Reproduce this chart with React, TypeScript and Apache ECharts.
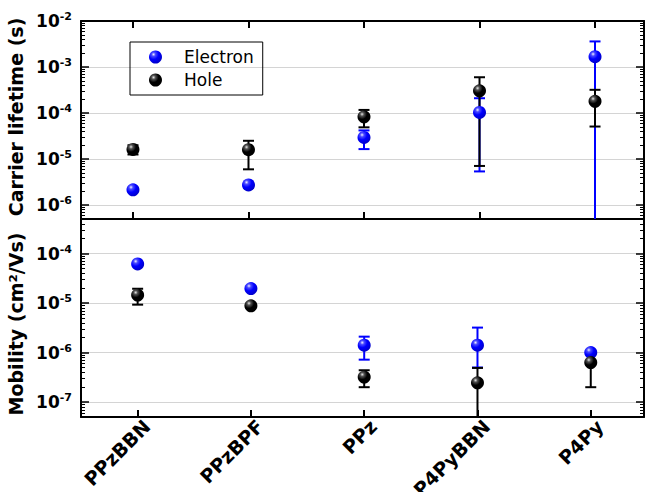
import React, { useEffect, useRef } from "react";
import * as echarts from "echarts";

const categories = ["PPzBBN", "PPzBPF", "PPz", "P4PyBBN", "P4Py"];

const lifetimeElectron = [2.15e-6, 2.75e-6, 2.95e-5, 1.03e-4, 1.68e-3];
const lifetimeElectronLow = [null, null, 1.65e-5, 5.4e-6, 1e-8];
const lifetimeElectronHigh = [null, null, 4.2e-5, 2.1e-4, 3.6e-3];
const lifetimeHole = [1.62e-5, 1.6e-5, 8.3e-5, 3.05e-4, 1.8e-4];
const lifetimeHoleLow = [1.26e-5, 6e-6, 4.9e-5, 7.1e-6, 5.1e-5];
const lifetimeHoleHigh = [2.0e-5, 2.5e-5, 1.17e-4, 6.0e-4, 3.2e-4];

const mobilityElectron = [6.2e-5, 1.97e-5, 1.41e-6, 1.41e-6, 1.0e-6];
const mobilityElectronLow = [null, null, 7.2e-7, 5e-7, null];
const mobilityElectronHigh = [null, null, 2.1e-6, 3.2e-6, null];
const mobilityHole = [1.45e-5, 8.8e-6, 3.2e-7, 2.45e-7, 6.3e-7];
const mobilityHoleLow = [9.3e-6, null, 2.0e-7, 1e-8, 2.0e-7];
const mobilityHoleHigh = [1.95e-5, null, 4.4e-7, 4.9e-7, 1.02e-6];

const lifetimeRange = [5e-7, 1e-2];
const mobilityRange = [5e-8, 5e-4];

const FONT = "DejaVu Sans";
const BLUE = "#0000ff";
const BLACK = "#000000";

const blueBall = {
  type: "radial",
  x: 0.35,
  y: 0.3,
  r: 0.7,
  colorStops: [
    { offset: 0, color: "#f0f0ff" },
    { offset: 0.22, color: "#4a4aff" },
    { offset: 0.55, color: "#0000ff" },
    { offset: 1, color: "#0000cc" },
  ],
};
const blackBall = {
  type: "radial",
  x: 0.35,
  y: 0.3,
  r: 0.7,
  colorStops: [
    { offset: 0, color: "#e6e6e6" },
    { offset: 0.22, color: "#505050" },
    { offset: 0.55, color: "#000000" },
    { offset: 1, color: "#000000" },
  ],
};

function minorTicks(min: number, max: number) {
  const lo = Math.log10(min);
  const hi = Math.log10(max);
  const out: number[] = [];
  for (let n = Math.floor(lo) - 1; n <= Math.ceil(hi); n++) {
    for (let k = 2; k <= 9; k++) {
      const v = n + Math.log10(k);
      if (v > lo + 1e-9 && v < hi - 1e-9) out.push(v);
    }
  }
  return out;
}

const supLabel = (v: number) => {
  const l = Math.log10(v);
  const e = Math.round(l);
  if (Math.abs(l - e) > 1e-6) return "";
  return `{b|10}{s|${e}}`;
};

const labelRich = {
  b: { fontSize: 17, fontWeight: "bold", fontFamily: FONT, color: "#000", lineHeight: 20 },
  s: { fontSize: 11, fontWeight: "bold", fontFamily: FONT, color: "#000", verticalAlign: "top", lineHeight: 12 },
};

function errorData(lo: (number | null)[], hi: (number | null)[]) {
  const out: number[][] = [];
  lo.forEach((l, i) => {
    const h = hi[i];
    if (l != null && h != null) out.push([i + 1, l, h]);
  });
  return out;
}

const makeErrorRender = (color: string) => (params: any, api: any) => {
  const x = api.value(0);
  const lo = api.value(1);
  const hi = api.value(2);
  const pTop = api.coord([x, hi]);
  const pBot = api.coord([x, lo]);
  const cs = params.coordSys;
  const yMin = cs.y;
  const yMax = cs.y + cs.height;
  const px = pTop[0];
  const y1 = Math.max(pTop[1], yMin);
  const y2 = Math.min(pBot[1], yMax);
  const st = { stroke: color, lineWidth: 2 };
  const children: any[] = [
    { type: "line", shape: { x1: px, y1, x2: px, y2 }, style: st },
  ];
  if (pTop[1] >= yMin) children.push({ type: "line", shape: { x1: px - 5.5, y1: pTop[1], x2: px + 5.5, y2: pTop[1] }, style: st });
  if (pBot[1] <= yMax) children.push({ type: "line", shape: { x1: px - 5.5, y1: pBot[1], x2: px + 5.5, y2: pBot[1] }, style: st });
  return { type: "group", children };
};

const pts = (arr: number[]) => arr.map((v, i) => [i + 1, v]);

function logAxis(gridIndex: number, position: string, range: number[], extra: any = {}) {
  return {
    type: "log",
    logBase: 10,
    gridIndex,
    position,
    min: range[0],
    max: range[1],
    axisLine: { show: true, lineStyle: { color: "#000", width: 2 } },
    axisTick: { show: true, inside: true, length: 8, lineStyle: { color: "#000", width: 1.5 } },
    axisLabel: { show: false },
    splitLine: { show: false },
    minorTick: { show: false },
    ...extra,
  };
}

function minorAxis(gridIndex: number, position: string, range: number[]) {
  return {
    type: "value",
    gridIndex,
    position,
    min: Math.log10(range[0]),
    max: Math.log10(range[1]),
    axisLine: { show: false },
    axisTick: {
      show: true,
      inside: true,
      length: 4,
      lineStyle: { color: "#000", width: 1 },
      customValues: minorTicks(range[0], range[1]),
    },
    axisLabel: { show: false },
    splitLine: { show: false },
  };
}

const tickCats = [1, 2, 3, 4, 5];
// label axis shifted a little to the right of the tick axis (in category units)
const LABEL_SHIFT = 0.08;

export default function App() {
  const ref = useRef<HTMLDivElement>(null);
  useEffect(() => {
    if (!ref.current) return;
    const chart = echarts.init(ref.current, null, { renderer: "svg" });
    const nameStyle = { fontFamily: FONT, fontWeight: "bold", fontSize: 19, color: "#000" };
    const option: any = {
      animation: false,
      backgroundColor: "#fff",
      grid: [
        { left: 81, right: 1, top: 21, height: 198, outerBoundsMode: "none", containLabel: false },
        { left: 81, right: 1, top: 219, height: 198, outerBoundsMode: "none", containLabel: false },
      ],
      legend: {
        data: ["Electron", "Hole"],
        orient: "vertical",
        left: 130,
        top: 42,
        icon: "circle",
        itemWidth: 13,
        itemHeight: 13,
        itemGap: 5,
        padding: [6, 9, 6, 19],
        borderColor: "#000",
        borderWidth: 1,
        selectedMode: false,
        textStyle: { fontFamily: FONT, fontSize: 17, color: "#000", padding: [0, 0, 0, 17], lineHeight: 18 },
      },
      xAxis: [
        {
          type: "value",
          gridIndex: 0,
          position: "bottom",
          min: 0.55,
          max: 5.424,
          axisLine: { show: true, lineStyle: { color: "#000", width: 2 } },
          axisTick: { show: true, inside: true, length: 7, lineStyle: { color: "#000", width: 2 }, customValues: tickCats },
          axisLabel: { show: false },
          splitLine: { show: false },
        },
        {
          type: "value",
          gridIndex: 0,
          position: "top",
          min: 0.55,
          max: 5.424,
          axisLine: { show: true, lineStyle: { color: "#000", width: 2 } },
          axisTick: { show: true, inside: true, length: 7, lineStyle: { color: "#000", width: 2 }, customValues: tickCats },
          axisLabel: { show: false },
          splitLine: { show: false },
        },
        {
          type: "value",
          gridIndex: 1,
          position: "bottom",
          min: 0.5,
          max: 5.47,
          axisLine: { show: true, lineStyle: { color: "#000", width: 2 } },
          axisTick: { show: true, inside: true, length: 7, lineStyle: { color: "#000", width: 2 }, customValues: tickCats },
          axisLabel: { show: false },
          splitLine: { show: false },
        },
        {
          type: "value",
          gridIndex: 1,
          position: "bottom",
          min: 0.5 - LABEL_SHIFT,
          max: 5.47 - LABEL_SHIFT,
          axisLine: { show: false },
          axisTick: { show: false },
          axisLabel: {
            show: true,
            customValues: tickCats,
            rotate: 45,
            margin: 6,
            fontFamily: FONT,
            fontWeight: "bold",
            fontSize: 19,
            color: "#000",
            formatter: (v: number) => categories[Math.round(v) - 1] ?? "",
          },
          splitLine: { show: false },
        },
      ],
      yAxis: [
        logAxis(0, "left", lifetimeRange, {
          name: "Carrier lifetime (s)",
          nameLocation: "middle",
          nameGap: 47,
          nameTextStyle: { ...nameStyle, padding: [0, 0, 0, 6] },
          axisLabel: { show: true, margin: 9, formatter: supLabel, rich: labelRich },
          splitLine: { show: true, lineStyle: { color: "#d4d4d4", width: 1 } },
        }),
        logAxis(0, "right", lifetimeRange),
        minorAxis(0, "left", lifetimeRange),
        minorAxis(0, "right", lifetimeRange),
        logAxis(1, "left", mobilityRange, {
          name: "Mobility (cm²/Vs)",
          nameLocation: "middle",
          nameGap: 47,
          nameTextStyle: { ...nameStyle, padding: [0, 12, 0, 0] },
          axisLabel: { show: true, margin: 9, formatter: supLabel, rich: labelRich },
          splitLine: { show: true, lineStyle: { color: "#d4d4d4", width: 1 } },
        }),
        logAxis(1, "right", mobilityRange),
        minorAxis(1, "left", mobilityRange),
        minorAxis(1, "right", mobilityRange),
      ],
      series: [
        {
          type: "custom",
          name: "lifetime-electron-error",
          xAxisIndex: 0,
          yAxisIndex: 0,
          z: 2,
          renderItem: makeErrorRender(BLUE),
          encode: { x: 0, y: [1, 2] },
          data: errorData(lifetimeElectronLow, lifetimeElectronHigh),
        },
        {
          type: "custom",
          name: "lifetime-hole-error",
          xAxisIndex: 0,
          yAxisIndex: 0,
          z: 2,
          renderItem: makeErrorRender(BLACK),
          encode: { x: 0, y: [1, 2] },
          data: errorData(lifetimeHoleLow, lifetimeHoleHigh),
        },
        {
          type: "scatter",
          name: "Electron",
          xAxisIndex: 0,
          yAxisIndex: 0,
          z: 3,
          symbol: "circle",
          symbolSize: 13,
          itemStyle: { color: blueBall, opacity: 1 },
          data: pts(lifetimeElectron),
        },
        {
          type: "scatter",
          name: "Hole",
          xAxisIndex: 0,
          yAxisIndex: 0,
          z: 3,
          symbol: "circle",
          symbolSize: 13,
          itemStyle: { color: blackBall, opacity: 1 },
          data: pts(lifetimeHole),
        },
        {
          type: "custom",
          name: "mobility-electron-error",
          xAxisIndex: 2,
          yAxisIndex: 4,
          z: 2,
          renderItem: makeErrorRender(BLUE),
          encode: { x: 0, y: [1, 2] },
          data: errorData(mobilityElectronLow, mobilityElectronHigh),
        },
        {
          type: "custom",
          name: "mobility-hole-error",
          xAxisIndex: 2,
          yAxisIndex: 4,
          z: 2,
          renderItem: makeErrorRender(BLACK),
          encode: { x: 0, y: [1, 2] },
          data: errorData(mobilityHoleLow, mobilityHoleHigh),
        },
        {
          type: "scatter",
          name: "Electron",
          xAxisIndex: 2,
          yAxisIndex: 4,
          z: 3,
          symbol: "circle",
          symbolSize: 13,
          itemStyle: { color: blueBall, opacity: 1 },
          data: pts(mobilityElectron),
        },
        {
          type: "scatter",
          name: "Hole",
          xAxisIndex: 2,
          yAxisIndex: 4,
          z: 3,
          symbol: "circle",
          symbolSize: 13,
          itemStyle: { color: blackBall, opacity: 1 },
          data: pts(mobilityHole),
        },
      ],
    };
    chart.setOption(option);
    return () => chart.dispose();
  }, []);
  return (
    <div
      ref={ref}
      style={{ position: "fixed", left: 0, top: 0, width: 645, height: 492, background: "#fff" }}
    />
  );
}
